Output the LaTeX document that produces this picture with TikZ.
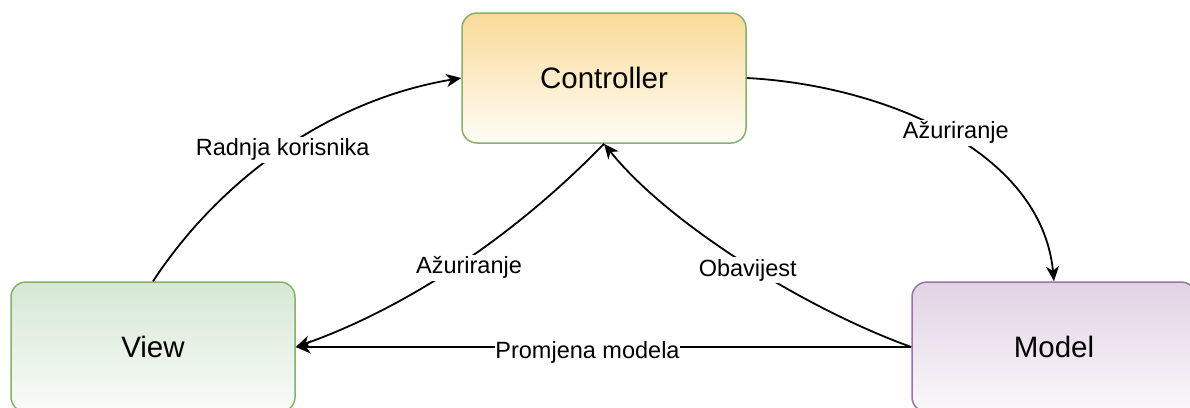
\documentclass[tikz,border=0pt]{standalone}
\usepackage{fontspec}
\setmainfont{Liberation Sans}
\usetikzlibrary{arrows.meta}
\definecolor{ctrltop}{HTML}{F9DA98}
\definecolor{ctrlbot}{HTML}{FFFDF7}
\definecolor{viewtop}{HTML}{D5E8D4}
\definecolor{viewbot}{HTML}{F9FBF9}
\definecolor{modeltop}{HTML}{E1D2E4}
\definecolor{modelbot}{HTML}{FBF8FB}
\definecolor{greenstroke}{HTML}{82B366}
\definecolor{purplestroke}{HTML}{9673A6}
\begin{document}
\begin{tikzpicture}[x=1pt,y=-1pt,
  box/.style={rectangle, rounded corners=15pt, minimum width=284pt, minimum height=130pt,
    line width=1.5pt, inner sep=0pt, font=\fontsize{29.5}{34}\selectfont},
  ctrlbox/.style={box, draw=greenstroke, top color=ctrltop, bottom color=ctrlbot},
  viewbox/.style={box, draw=greenstroke, top color=viewtop, bottom color=viewbot},
  modelbox/.style={box, draw=purplestroke, top color=modeltop, bottom color=modelbot},
  conn/.style={line width=1.8pt, -{Stealth[length=15pt,width=13pt,inset=4.5pt]}},
  lbl/.style={fill=white, inner sep=2pt, font=\fontsize{23.5}{27}\selectfont}
]
\useasboundingbox (0,0) rectangle (1190,407);
\node[ctrlbox] (ctrl) at (604,78) {Controller};
\node[viewbox] (view) at (153,347) {View};
\node[modelbox] (model) at (1054,347) {Model};

\draw[conn] (view.north) .. controls +(67,-102) and +(-132,22) .. (ctrl.west)
  node[lbl, pos=0.5] (l1) {Radnja korisnika};
\draw[conn] (ctrl.east) .. controls +(134,7) and +(-13,-132) .. (model.north)
  node[lbl, pos=0.5, xshift=10pt] (l2) {Ažuriranje};
\draw[conn] (ctrl.south) .. controls +(-94,97) and +(105,-37) .. (view.east)
  node[lbl, pos=0.5, xshift=15pt] (l3) {Ažuriranje};
\draw[conn] (model.west) .. controls +(-103,-37) and +(66,82) .. (ctrl.south)
  node[lbl, pos=0.5, xshift=4pt, yshift=-8pt] (l4) {Obavijest};
\draw[conn] (model.west) -- (view.east)
  node[lbl, pos=0.5, xshift=-16pt, yshift=-5pt, inner sep=0pt] (l5) {Promjena modela};
\end{tikzpicture}
\end{document}
